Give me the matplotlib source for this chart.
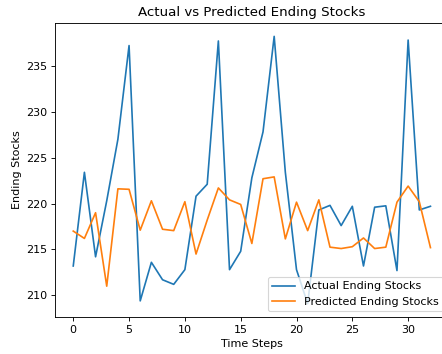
import matplotlib
matplotlib.use("Agg")
from matplotlib import pyplot as plt
import numpy as np

# Values
time_steps = list(range(33))
actual = [213.2, 223.4, 214.2, 220.3, 227.0, 237.2, 209.4, 213.6, 211.7, 211.2,
          212.8, 220.8, 222.1, 237.7, 212.8, 214.8, 222.8, 227.8, 238.2, 223.4,
          212.8, 209.1, 219.3, 219.8, 217.6, 219.7, 213.2, 219.6, 219.75, 212.7,
          237.8, 219.3, 219.7]
predicted = [217.0, 216.2, 219.0, 211.0, 221.6, 221.55, 217.1, 220.3, 217.2, 217.05,
             220.2, 214.5, 218.2, 221.7, 220.4, 219.9, 215.65, 222.7, 222.9, 216.15,
             220.15, 217.05, 220.4, 215.25, 215.1, 215.3, 216.25, 215.1, 215.25, 220.15,
             221.9, 220.2, 215.2]

# 80 dpi so default font sizes come out a bit smaller, like the reference
fig = plt.figure(figsize=(5.525, 4.425), dpi=80)
# axes run past the right edge (reference is cropped there)
ax = fig.add_axes([0.1253, 0.1045, 0.889, 0.8305])

ax.plot(time_steps, actual, label="Actual Ending Stocks")
ax.plot(time_steps, predicted, label="Predicted Ending Stocks")

ax.set_title("Actual vs Predicted Ending Stocks")
ax.set_xlabel("Time Steps")
ax.set_ylabel("Ending Stocks")
ax.legend(loc="lower right")

fig.savefig("out.png", dpi=80)
